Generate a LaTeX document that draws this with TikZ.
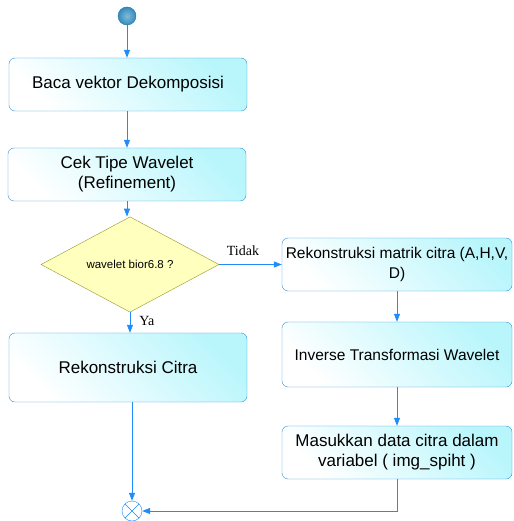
\documentclass[tikz,border=0pt]{standalone}
\usepackage{fontspec}
\setmainfont{Liberation Sans}
\newfontfamily\labelfont{Liberation Serif}
\usepackage{tikz}
\usetikzlibrary{arrows.meta,shapes.geometric,positioning,calc}
\definecolor{actblue}{RGB}{50,145,215}
\definecolor{actcyan}{RGB}{185,246,252}
\definecolor{flowblue}{RGB}{30,140,250}
\definecolor{decolive}{RGB}{150,150,40}
\definecolor{decyellow}{RGB}{255,255,190}
\definecolor{startteal}{RGB}{50,140,190}

\begin{document}
\begin{tikzpicture}[
  x=1pt, y=-1pt,
  every node/.style={font=\fontsize{17}{20}\selectfont},
  action/.style={draw=actblue, rounded corners=6pt,
                 left color=white, right color=actcyan, shading angle=135,
                 minimum width=238pt, minimum height=53pt,
                 align=center, inner sep=2pt},
  actionR/.style={action, minimum width=230pt},
  tight/.style={font=\fontsize{15.5}{20}\selectfont},
  decision/.style={diamond, draw=decolive, fill=decyellow,
                   minimum width=178pt, minimum height=61pt, inner sep=0pt,
                   font=\fontsize{11.5}{13}\selectfont},
  flow/.style={-{Triangle[length=8pt,width=6pt]}, flowblue, thick},
  guard/.style={font=\labelfont\fontsize{14}{16}\selectfont, text=black,
                inner sep=0pt},
]
\useasboundingbox (0,0) rectangle (513,521);

%% ── Start / end ──────────────────────────────────────────────────────────────
\node[circle, draw=startteal!80!black, inner color=startteal!60!white,
      outer color=startteal, minimum size=18pt, inner sep=0pt] (start) at (127,16) {};
\node[circle, draw=flowblue, fill=white, minimum size=20pt, inner sep=0pt,
      path picture={\draw[flowblue]
        (path picture bounding box.north west) -- (path picture bounding box.south east)
        (path picture bounding box.north east) -- (path picture bounding box.south west);}]
  (stop) at (132,511) {};

%% ── Left column ──────────────────────────────────────────────────────────────
\node[action]   (baca) at (128, 84.5)  {Baca vektor Dekomposisi};
\node[action]   (cek)  at (127,174.5)  {Cek Tipe Wavelet\\(Refinement)};
\node[decision] (dec)  at (130,264.5)  {wavelet bior6.8 ?};
\node[action, minimum height=69pt] (rek) at (128,367.5) {Rekonstruksi Citra};

%% ── Right column ─────────────────────────────────────────────────────────────
\node[actionR, tight] (rmat) at (397,264.5) {Rekonstruksi matrik citra (A,H,V,\\D)};
\node[actionR, tight, minimum height=65pt] (inv) at (397,354.5) {Inverse Transformasi Wavelet};
\node[actionR] (mas)  at (397,452.5) {Masukkan data citra dalam\\variabel ( img\_spiht )};

%% ── Flows ────────────────────────────────────────────────────────────────────
\draw[flow] (start.south) -- (start.south |- baca.north);
\draw[flow] (baca.south -| start) -- (cek.north -| start);
\draw[flow] (cek.south) -- (cek.south |- dec.north);
\draw[flow] (dec.east) -- (rmat.west)
  node[guard, pos=0.38, above=8pt] {Tidak};
\draw[flow] (dec.south) -- (dec.south |- rek.north)
  node[guard, pos=0.4, right=9pt] {Ya};
\draw[flow] (rmat.south) -- (inv.north);
\draw[flow] (inv.south) -- (mas.north);
\draw[flow] (rek.south -| stop) -- (stop.north);
\draw[flow] (mas.south) |- (stop.east);

\end{tikzpicture}
\end{document}
